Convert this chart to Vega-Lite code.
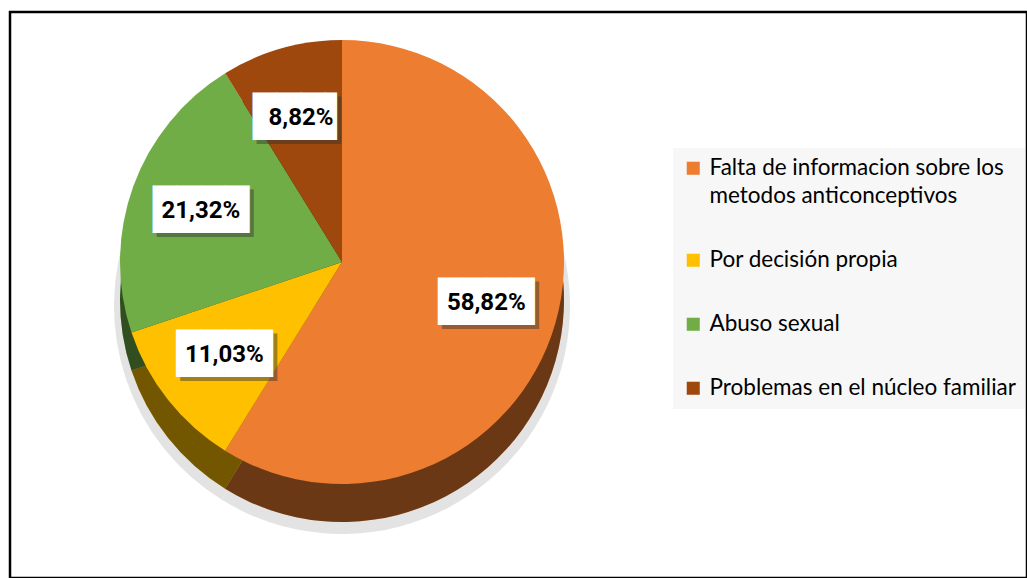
{
  "$schema": "https://vega.github.io/schema/vega-lite/v6.json",
  "width": 1017,
  "height": 566,
  "autosize": {"type": "none"},
  "padding": {"left": 10, "top": 12, "right": 0, "bottom": 0},
  "background": "white",
  "config": {
    "view": {"stroke": "black", "strokeWidth": 2.5},
    "style": {"guide-label": {"lineHeight": 28}}
  },
  "data": {
    "values": [
      {"causa": "Falta de informacion sobre los metodos anticonceptivos", "pct": 58.82, "orden": 1, "etiqueta": "58,82%"},
      {"causa": "Por decisión propia", "pct": 11.03, "orden": 2, "etiqueta": "11,03%"},
      {"causa": "Abuso sexual", "pct": 21.32, "orden": 3, "etiqueta": "21,32%"},
      {"causa": "Problemas en el núcleo familiar", "pct": 8.82, "orden": 4, "etiqueta": "8,82%"}
    ]
  },
  "encoding": {
    "theta": {"field": "pct", "type": "quantitative", "stack": true},
    "order": {"field": "orden", "type": "quantitative"},
    "x": {"value": 332},
    "y": {"value": 250}
  },
  "layer": [
    {
      "mark": {"type": "arc", "fill": "#dcdcdc", "radius": 228, "opacity": 0.8},
      "encoding": {"detail": {"field": "causa"}, "y": {"value": 294}}
    },
    {
      "mark": {"type": "arc", "radius": 222},
      "encoding": {
        "y": {"value": 288},
        "color": {
          "field": "causa", "type": "nominal",
          "scale": {
            "domain": ["Falta de informacion sobre los metodos anticonceptivos", "Por decisión propia", "Abuso sexual", "Problemas en el núcleo familiar"],
            "range": ["#ED7D31", "#FFC000", "#70AD47", "#9E480E"]
          }
        }
      }
    },
    {
      "mark": {"type": "arc", "radius": 222, "fill": "black", "opacity": 0.55},
      "encoding": {"detail": {"field": "causa"}, "y": {"value": 288}}
    },
    {
      "mark": {"type": "arc", "radius": 222},
      "encoding": {
        "color": {
          "field": "causa", "type": "nominal",
          "scale": {
            "domain": ["Falta de informacion sobre los metodos anticonceptivos", "Por decisión propia", "Abuso sexual", "Problemas en el núcleo familiar"],
            "range": ["#ED7D31", "#FFC000", "#70AD47", "#9E480E"]
          },
          "legend": {
            "title": null,
            "orient": "none",
            "legendX": 663,
            "legendY": 136,
            "fillColor": "#f7f7f7",
            "padding": 9,
            "rowPadding": 41,
            "labelFont": "Lato",
            "labelFontSize": 22.5,
            "labelColor": "black",
            "labelLimit": 400,
            "labelOffset": 5,
            "symbolType": "square",
            "symbolSize": 170,
            "symbolStrokeWidth": 0,
            "symbolOpacity": 1,
            "labelExpr": "datum.label == 'Falta de informacion sobre los metodos anticonceptivos' ? ['Falta de informacion sobre los', 'metodos anticonceptivos'] : datum.label"
          }
        }
      }
    },
    {
      "mark": {"type": "text", "font": "DejaVu Sans Mono", "fontSize": 40, "fill": "#333333", "opacity": 0.45, "dx": 4, "dy": 4, "baseline": "middle"},
      "encoding": {
        "detail": {"field": "causa"},
        "radius": {"condition": {"test": "datum.orden == 4", "value": 118}, "value": 150},
        "text": {"condition": {"test": "datum.orden == 4", "value": "███▌"}, "value": "████"}
      }
    },
    {
      "mark": {"type": "text", "font": "DejaVu Sans Mono", "fontSize": 40, "fill": "white", "baseline": "middle"},
      "encoding": {
        "detail": {"field": "causa"},
        "radius": {"condition": {"test": "datum.orden == 4", "value": 118}, "value": 150},
        "text": {"condition": {"test": "datum.orden == 4", "value": "███▌"}, "value": "████"}
      }
    },
    {
      "mark": {"type": "text", "font": "Roboto", "fontWeight": "bold", "fontSize": 24, "fill": "black", "baseline": "middle"},
      "encoding": {
        "detail": {"field": "causa"},
        "radius": {"condition": {"test": "datum.orden == 4", "value": 118}, "value": 150},
        "text": {"field": "etiqueta"}
      }
    }
  ]
}
